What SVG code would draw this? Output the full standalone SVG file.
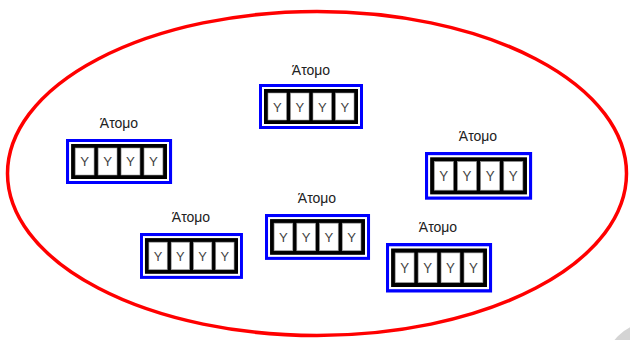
<svg xmlns="http://www.w3.org/2000/svg" xmlns:xlink="http://www.w3.org/1999/xlink" width="630" height="340" viewBox="0 0 630 340">
  <style>
    .label { font-family: "Liberation Sans", Arial, sans-serif; font-size: 14px; fill: #222; text-anchor: middle; }
    .cellchar { font-family: "Liberation Sans", Arial, sans-serif; font-size: 13px; fill: #444; text-anchor: middle; }
    .frame { fill: #fff; stroke: #0000ff; stroke-width: 3; }
    .body { fill: #000; }
    .cell { fill: #fff; stroke: #999; stroke-width: 0.6; }
  </style>
  <defs>
    <!-- atom box: blue frame, black body with four cells -->
    <g id="atom">
      <rect class="frame" x="1.5" y="1.5" width="101" height="42"/>
      <rect class="body" x="5" y="5" width="94" height="35"/>
      <rect class="cell" x="9" y="9" width="18.5" height="27"/>
      <rect class="cell" x="31.5" y="9" width="18.5" height="27"/>
      <rect class="cell" x="54" y="9" width="18.5" height="27"/>
      <rect class="cell" x="76.5" y="9" width="18.5" height="27"/>
      <text class="cellchar" x="18.25" y="27.5">Y</text>
      <text class="cellchar" x="40.75" y="27.5">Y</text>
      <text class="cellchar" x="63.25" y="27.5">Y</text>
      <text class="cellchar" x="85.75" y="27.5">Y</text>
    </g>
  </defs>

  <rect width="630" height="340" fill="#fff"/>

  <!-- enclosing ellipse -->
  <ellipse cx="317" cy="173.5" rx="309.5" ry="162" fill="none" stroke="#ff0000" stroke-width="3.5"/>

  <g id="atom-top">
    <text class="label" x="311" y="75">Άτομο</text>
    <use xlink:href="#atom" transform="translate(259,84)"/>
  </g>
  <g id="atom-left">
    <text class="label" x="119" y="128">Άτομο</text>
    <use xlink:href="#atom" transform="translate(66,139) scale(1.02,1)"/>
  </g>
  <g id="atom-right">
    <text class="label" x="478" y="141">Άτομο</text>
    <use xlink:href="#atom" transform="translate(425,152) scale(1.03,1.06)"/>
  </g>
  <g id="atom-center">
    <text class="label" x="317" y="203">Άτομο</text>
    <use xlink:href="#atom" transform="translate(265,214) scale(1.01,1.02)"/>
  </g>
  <g id="atom-lower-left">
    <text class="label" x="191" y="222">Άτομο</text>
    <use xlink:href="#atom" transform="translate(140,233) scale(0.99,1.02)"/>
  </g>
  <g id="atom-lower-right">
    <text class="label" x="438" y="232">Άτομο</text>
    <use xlink:href="#atom" transform="translate(386,243) scale(1.02,1.1)"/>
  </g>

  <!-- grey corner shape -->
  <circle cx="652" cy="370" r="48" fill="#d4d4d4"/>
</svg>
